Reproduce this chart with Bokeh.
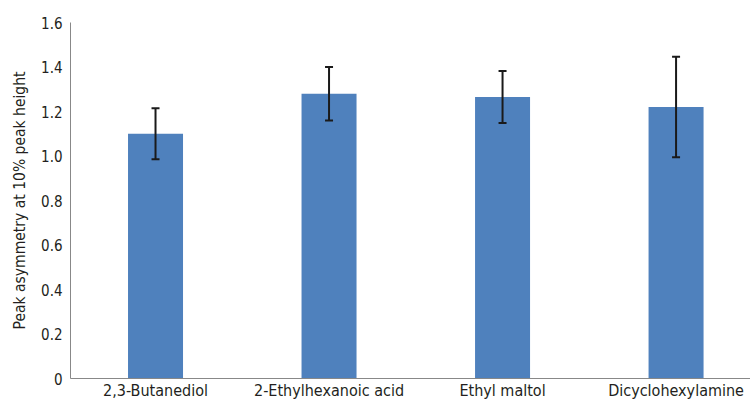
from bokeh.plotting import figure
from bokeh.models import ColumnDataSource, Whisker, TeeHead, FixedTicker, Range1d, CustomJSTickFormatter
from bokeh.embed import file_html
from bokeh.resources import INLINE

categories = ["2,3-Butanediol", "2-Ethylhexanoic acid", "Ethyl maltol", "Dicyclohexylamine"]
values = [1.10, 1.28, 1.265, 1.22]
errors = [0.115, 0.12, 0.117, 0.226]
y_ticks = [0, 0.2, 0.4, 0.6, 0.8, 1.0, 1.2, 1.4, 1.6]

FONT = "'DejaVu Sans Condensed', 'Liberation Sans Narrow', 'Roboto'"
TEXT = "#231f20"

xs = list(range(len(categories)))
src = ColumnDataSource(dict(
    x=xs, v=values,
    up=[v + e for v, e in zip(values, errors)],
    lo=[v - e for v, e in zip(values, errors)],
))

p = figure(width=750, height=402, output_backend="svg", toolbar_location=None,
           x_range=Range1d(-0.49, 3.429), y_range=Range1d(0, 1.6),
           min_border_left=70, min_border_right=0, min_border_top=22, min_border_bottom=20)
p.outline_line_color = None
p.grid.grid_line_color = None

p.vbar(x="x", top="v", width=0.317, source=src, fill_color="#4f81bd", line_color=None)

head = dict(size=8, line_color="#1a1a1a", line_width=2)
w = Whisker(base="x", upper="up", lower="lo", source=src, line_color="#1a1a1a", line_width=2,
            upper_head=TeeHead(**head), lower_head=TeeHead(**head), level="overlay")
p.add_layout(w)

ya = p.yaxis[0]
ya.ticker = FixedTicker(ticks=y_ticks)
ya.formatter = CustomJSTickFormatter(code="return tick == 0 ? '0' : tick.toFixed(1);")
ya.major_tick_line_color = None
ya.minor_tick_line_color = None
ya.major_tick_out = 0
ya.major_tick_in = 0
ya.axis_line_color = "#888888"
ya.major_label_standoff = 8
ya.major_label_text_font = FONT
ya.major_label_text_font_size = "15px"
ya.major_label_text_color = TEXT
ya.axis_label = "Peak asymmetry at 10% peak height"
ya.axis_label_text_font = FONT
ya.axis_label_text_font_size = "15.5px"
ya.axis_label_text_font_style = "normal"
ya.axis_label_text_color = TEXT
ya.axis_label_standoff = 9

xa = p.xaxis[0]
xa.ticker = FixedTicker(ticks=xs)
xa.major_label_overrides = {i: c for i, c in zip(xs, categories)}
xa.major_tick_line_color = None
xa.minor_tick_line_color = None
xa.major_tick_out = 0
xa.major_tick_in = 0
xa.axis_line_color = "#888888"
xa.major_label_standoff = 2
xa.major_label_text_line_height = 1.0
xa.major_label_text_font = FONT
xa.major_label_text_font_size = "16px"
xa.major_label_text_color = TEXT

open("out.html", "w").write(file_html(p, INLINE))
